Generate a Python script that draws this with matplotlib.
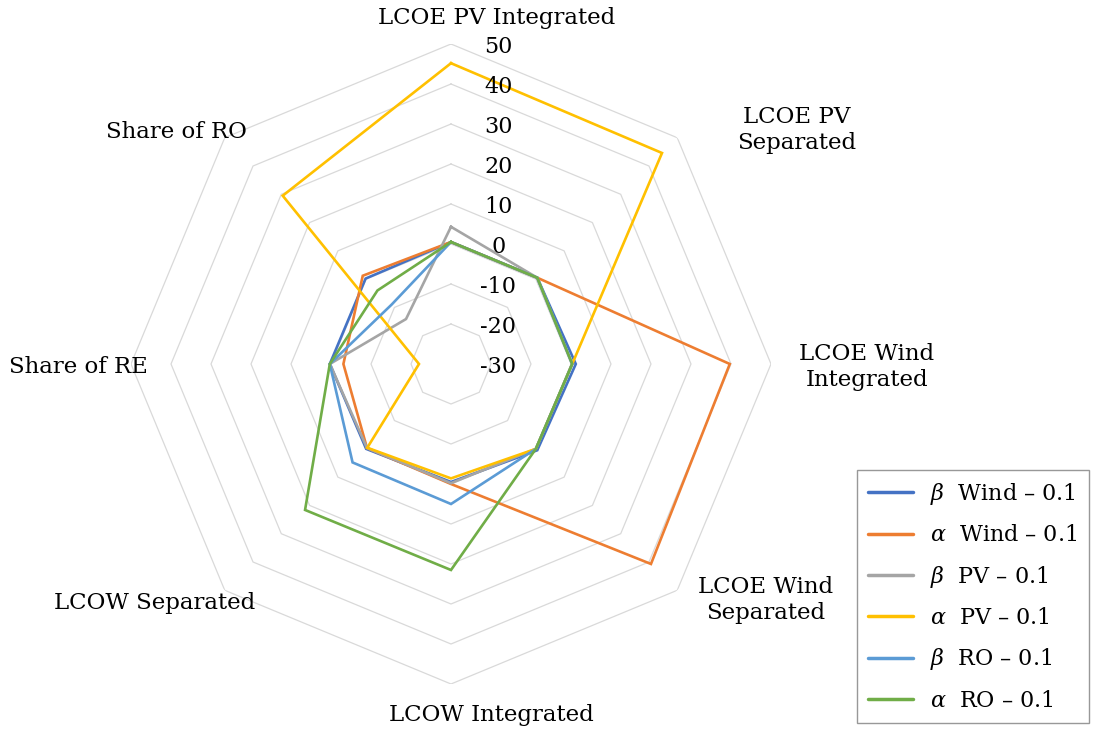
import numpy as np
import matplotlib
matplotlib.use("Agg")
import matplotlib.pyplot as plt
from matplotlib.lines import Line2D

categories = ["LCOE PV Integrated", "LCOE PV\nSeparated", "LCOE Wind\nIntegrated",
              "LCOE Wind\nSeparated", "LCOW Integrated", "LCOW Separated",
              "Share of RE", "Share of RO"]
levels = [-30, -20, -10, 0, 10, 20, 30, 40, 50]
tick_labels = ["-30", "-20", "-10", "0", "10", "20", "30", "40", "50"]

series_names = [r"$\beta$  Wind – 0.1", r"$\alpha$  Wind – 0.1", r"$\beta$  PV – 0.1",
                r"$\alpha$  PV – 0.1", r"$\beta$  RO – 0.1", r"$\alpha$  RO – 0.1"]
beta_wind = [0.5, 0.5, 1.2, 0.5, -0.5, 0.0, 0.3, 0.2]
alpha_wind = [0.5, 0.5, 39.7, 40.7, 0.0, -0.3, -3.1, 1.2]
beta_pv = [4.3, 0.5, 0.3, 0.0, -0.2, -0.3, 0.3, -14.1]
alpha_pv = [45.2, 44.6, 0.3, 0.0, -1.4, -0.4, -22.0, 29.5]
beta_ro = [0.5, 0.5, 0.3, 0.0, 5.0, 4.8, 0.3, -9.0]
alpha_ro = [0.5, 0.5, 0.3, 0.0, 21.5, 21.6, 0.3, -4.0]
series = [beta_wind, alpha_wind, beta_pv, alpha_pv, beta_ro, alpha_ro]
colors = ["#4472C4", "#ED7D31", "#A5A5A5", "#FFC000", "#5B9BD5", "#70AD47"]

plt.rcParams["font.family"] = ["DejaVu Serif"]
plt.rcParams["mathtext.fontset"] = "dejavuserif"

W, H = 1094, 733
fig = plt.figure(figsize=(W / 100, H / 100), dpi=100)
cx, cy, R = 451, 364, 320
ax = fig.add_axes([(cx - R) / W, (H - cy - R) / H, 2 * R / W, 2 * R / H], projection="polar")
ax.set_theta_offset(np.pi / 2)
ax.set_theta_direction(-1)
ax.set_ylim(-30, 50)
ax.grid(False)
ax.spines["polar"].set_visible(False)
ax.set_xticks([])
ax.set_yticks([])
ax.patch.set_alpha(0)

n = len(categories)
theta = np.arange(n) * 2 * np.pi / n
theta_c = np.append(theta, theta[0])

for lv in levels[1:]:
    ax.plot(theta_c, [lv] * (n + 1), color="#D9D9D9", lw=0.9, zorder=1)

for vals, col, name in zip(series, colors, series_names):
    ax.plot(theta_c, list(vals) + [vals[0]], color=col, lw=1.9, zorder=3,
            solid_joinstyle="miter", label=name)

for lv, lab in zip(levels, tick_labels):
    ax.annotate(lab, xy=(0, lv), xytext=(34, -2), textcoords="offset points",
                ha="center", va="center", fontsize=16, zorder=4)

label_pos = [(497, 18), (797, 130), (867, 367), (766, 600), (491, 715),
             (155, 603), (78, 367), (176, 132)]
for lab, (px, py) in zip(categories, label_pos):
    fig.text(px / W, 1 - py / H, lab, ha="center", va="center", fontsize=16.5,
             linespacing=1.25)

handles = [Line2D([], [], color=c, lw=2.5, solid_capstyle="round") for c in colors]
leg = fig.legend(handles, series_names, loc="upper left",
                 bbox_to_anchor=(857 / W, 1 - 470 / H), fontsize=16,
                 frameon=True, fancybox=False, handlelength=2.0,
                 labelspacing=0.78, borderpad=0.5, handletextpad=0.8,
                 borderaxespad=0)
leg.get_frame().set_edgecolor("#7F7F7F")
leg.get_frame().set_linewidth(1.0)

fig.savefig("out.png", dpi=100)
